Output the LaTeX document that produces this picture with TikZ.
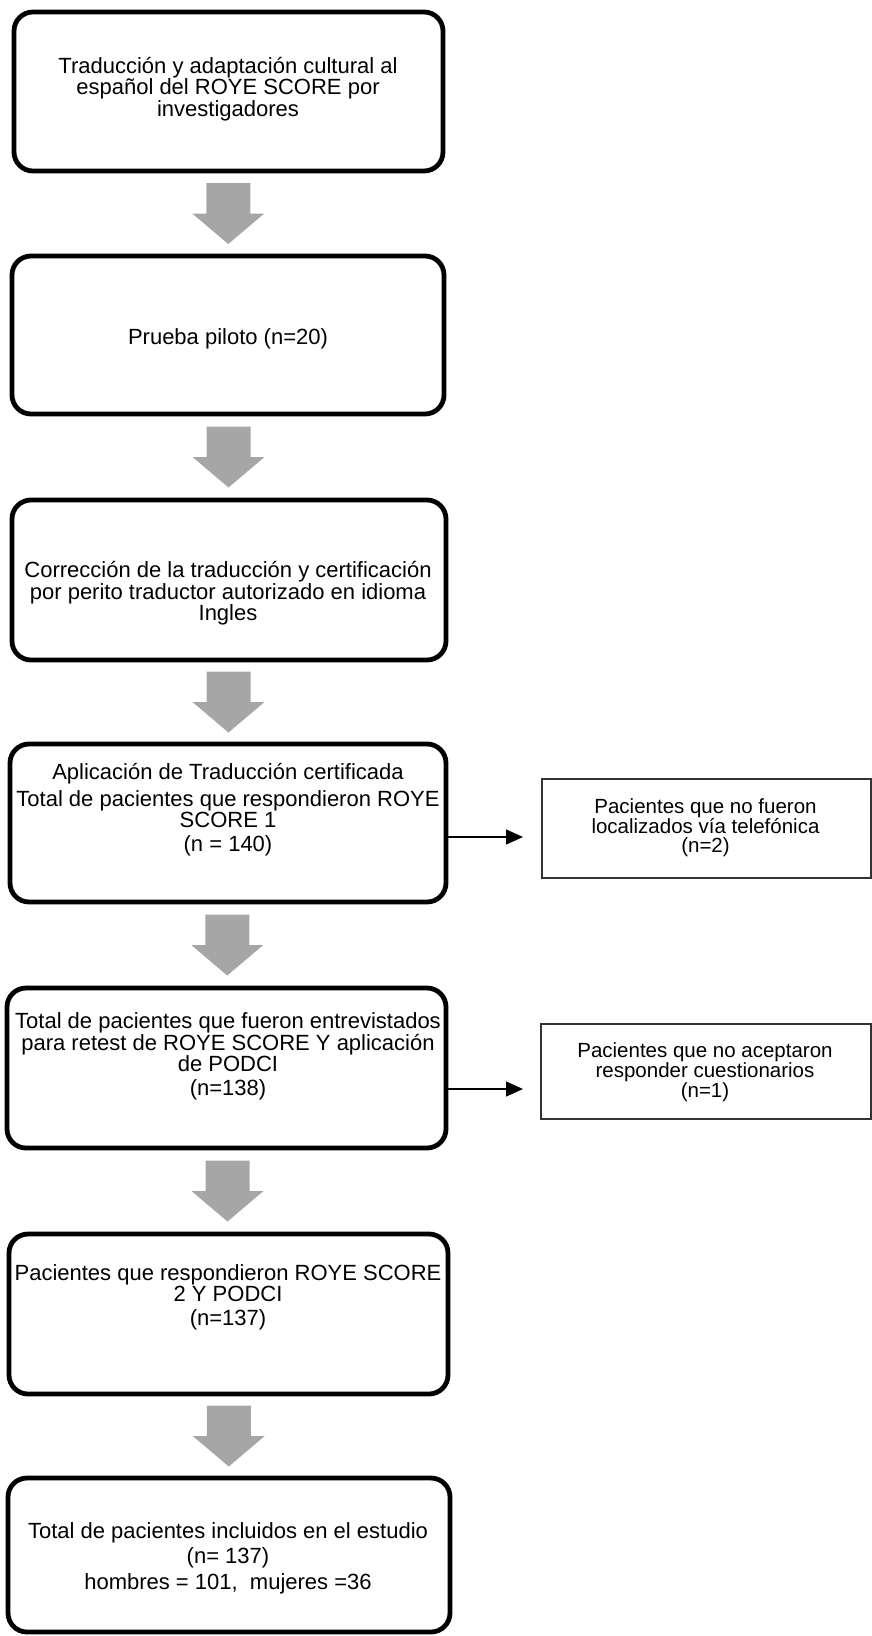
\documentclass[tikz,border=0pt]{standalone}
\usepackage{fontspec}
\setmainfont{Liberation Sans}
\usetikzlibrary{calc,arrows.meta}
\definecolor{arrowgray}{HTML}{A6A6A6}
\definecolor{sideline}{HTML}{333333}
\newcommand\blockarrow[2]{%
  \coordinate (m#1) at ($(#1.south)!0.5!(#2.north)$);
  \fill[arrowgray] ($(m#1)+(-22,-30.5)$) -- ($(m#1)+(22,-30.5)$) -- ($(m#1)+(22,0)$) -- ($(m#1)+(36,0)$) -- ($(m#1)+(0,30.5)$) -- ($(m#1)+(-36,0)$) -- ($(m#1)+(-22,0)$) -- cycle;}
\begin{document}
\begin{tikzpicture}[x=1pt,y=-1pt,
  mainbox/.style n args={2}{draw=black,line width=4.8pt,rounded corners=19pt,inner sep=0pt,outer sep=0pt,minimum width=#1,minimum height=#2},
  sidebox/.style n args={2}{draw=sideline,line width=1.2pt,inner sep=0pt,outer sep=0pt,minimum width=#1,minimum height=#2},
  txt/.style={align=center,inner sep=0pt,font=\fontsize{22}{19}\selectfont},
  sidetxt/.style={align=center,inner sep=0pt,font=\fontsize{20.5}{19}\selectfont},
  flow/.style={line width=1.3pt,-{Triangle[length=17pt,width=15pt]}}]
\useasboundingbox (0,0) rectangle (871,1636);
% boxes
\node[mainbox={429pt}{159pt}] (b1) at (228.5,91.5) {};
\node[mainbox={432pt}{158pt}] (b2) at (228,335) {};
\node[mainbox={434pt}{160pt}] (b3) at (229,580) {};
\node[mainbox={436pt}{158pt}] (b4) at (228,823) {};
\node[mainbox={439pt}{160pt}] (b5) at (226.5,1068) {};
\node[mainbox={439pt}{160pt}] (b6) at (228.5,1314) {};
\node[mainbox={442pt}{154pt}] (b7) at (229,1555) {};
\node[sidebox={329pt}{99pt}] (s1) at (706.5,828.5) {};
\node[sidebox={330pt}{95pt}] (s2) at (706,1071.5) {};
% texts
\node[txt] (t1) at (228,89) {Traducción y adaptación cultural al\\español del ROYE SCORE por\\investigadores};
\node[txt] (t2) at (228,339) {Prueba piloto (n=20)};
\node[txt] (t3) at (228,593.5) {Corrección de la traducción y certificación\\por perito traductor autorizado en idioma\\Ingles};
\node[txt] (t4) at (228,809.5) {Aplicación de Traducción certificada\\[5pt]Total de pacientes que respondieron ROYE\\SCORE 1\\[5pt](n = 140)};
\node[txt] (t5) at (228,1056.5) {Total de pacientes que fueron entrevistados\\para retest de ROYE SCORE Y aplicación\\de PODCI\\[5pt](n=138)};
\node[txt] (t6) at (228,1297.5) {Pacientes que respondieron ROYE SCORE\\2 Y PODCI\\[5pt](n=137)};
\node[txt] (t7) at (228,1558) {Total de pacientes incluidos en el estudio\\[4pt](n= 137)\\[4pt]hombres = 101,\ \ mujeres =36};
\node[sidetxt] (ts1) at (705.5,828) {Pacientes que no fueron\\localizados vía telefónica\\(n=2)};
\node[sidetxt] (ts2) at (705,1072) {Pacientes que no aceptaron\\responder cuestionarios\\(n=1)};
% block arrows
\blockarrow{b1}{b2}
\blockarrow{b2}{b3}
\blockarrow{b3}{b4}
\blockarrow{b4}{b5}
\blockarrow{b5}{b6}
\blockarrow{b6}{b7}
% side arrows
\draw[flow] ($(b4.east)+(0,14)$) -- ($(s1.west)+(-19,8.5)$);
\draw[flow] ($(b5.east)+(0,21)$) -- ($(s2.west)+(-18,17.5)$);
\end{tikzpicture}
\end{document}
